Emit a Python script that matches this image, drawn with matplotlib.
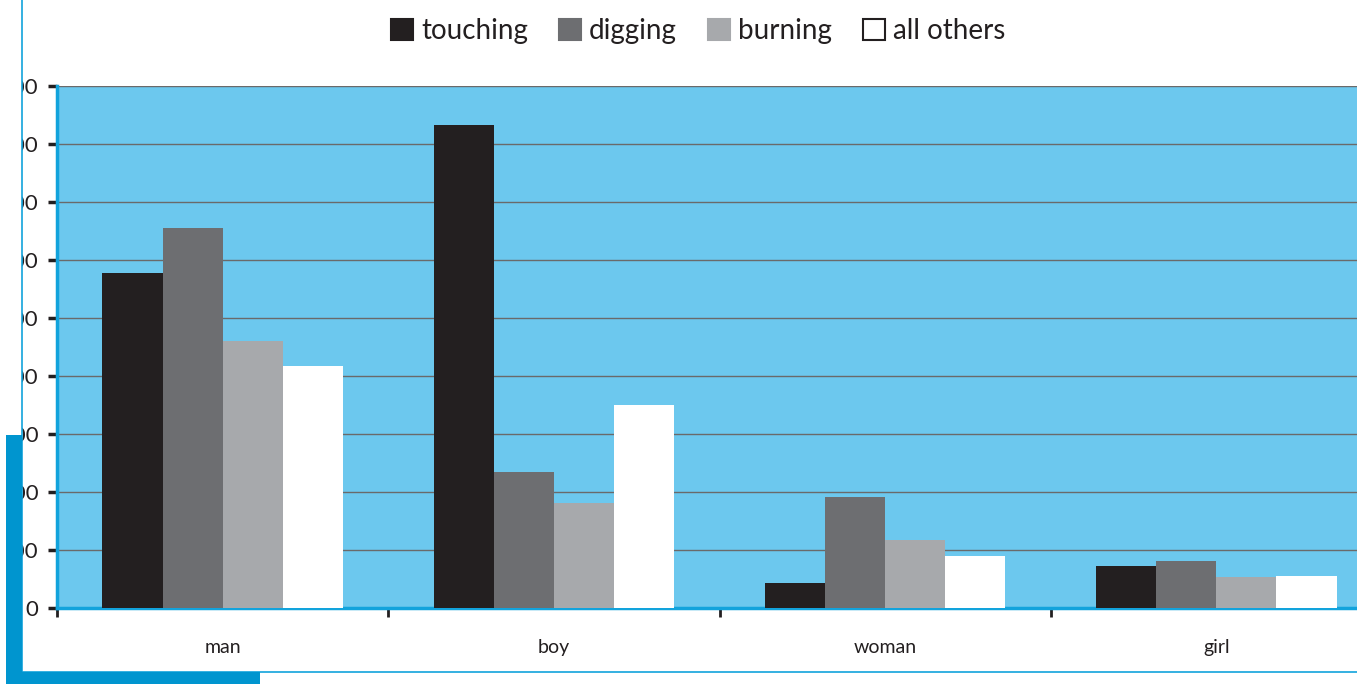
import numpy as np
import matplotlib.pyplot as plt
from matplotlib.patches import Rectangle
from matplotlib.lines import Line2D

categories = ["man", "boy", "woman", "girl"]
series = ["touching", "digging", "burning", "all others"]
touching = [578, 833, 43, 72]
digging = [655, 234, 191, 81]
burning = [460, 181, 117, 53]
others = [417, 350, 90, 55]
yticks = [0, 100, 200, 300, 400, 500, 600, 700, 800, 900]

colors = ["#231F20", "#6D6E71", "#A7A9AC", "#FFFFFF"]
plt.rcParams['font.family'] = ['Lato', 'DejaVu Sans']

fig = plt.figure(figsize=(13.57, 6.84), dpi=100)
W, H = 1357, 684
ax = fig.add_axes([57 / W, (H - 608) / H, 1325 / W, (608 - 86) / H])
ax.set_facecolor("#6CC8EE")

x = np.arange(len(categories))
bw = 0.1815
for i, (vals, c) in enumerate(zip([touching, digging, burning, others], colors)):
    ax.bar(x + (i - 1.5) * bw, vals, width=bw, color=c, label=series[i],
           linewidth=0, zorder=3)

ax.set_xlim(-0.5, 3.5)
ax.set_ylim(0, 900)
ax.set_yticks(yticks)
ax.set_yticklabels([str(v) for v in yticks], fontsize=16, color="#231F20")
ax.yaxis.grid(True, color="#6a6a6a", linewidth=1, zorder=1)
ax.set_xticks(x)
ax.set_xticklabels(categories, fontsize=14, color="#231F20")
ax.set_xticks(np.arange(-0.5, 4, 1), minor=True)
ax.tick_params(axis="x", which="major", length=0, pad=22)
ax.tick_params(axis="x", which="minor", length=6.5, width=2, color="#231F20", direction="out")
ax.tick_params(axis="y", length=6.5, width=2.5, color="#231F20", pad=7)
for s in ["top", "right"]:
    ax.spines[s].set_visible(False)
ax.spines["left"].set_color("#12A3DC")
ax.spines["left"].set_linewidth(2.5)
ax.spines["bottom"].set_color("#12A3DC")
ax.spines["bottom"].set_linewidth(2.5)

handles = [Rectangle((0, 0), 1, 1, facecolor=c, edgecolor="#231F20" if i == 3 else c, linewidth=1.5)
           for i, c in enumerate(colors)]
fig.legend(handles, series, loc="center", bbox_to_anchor=(698 / W, 1 - 31 / H), ncol=4,
           frameon=False, fontsize=20, handlelength=0.8, handleheight=0.8,
           handletextpad=0.3, columnspacing=1.1, labelcolor="#231F20")

# white margin that crops the tick labels, then the decorative frame
fig.add_artist(Rectangle((0, 0), 22 / W, 1, transform=fig.transFigure,
                         facecolor="white", edgecolor="none", zorder=5))
fig.add_artist(Line2D([22 / W, 22 / W], [1 - 672 / H, 1], color="#12A3DC", linewidth=1.2, zorder=6))
fig.add_artist(Line2D([22 / W, 1], [1 - 672 / H, 1 - 672 / H], color="#12A3DC", linewidth=1.2, zorder=6))
fig.add_artist(Rectangle((6 / W, 0), 16 / W, 1 - 435 / H, transform=fig.transFigure,
                         facecolor="#0095CF", edgecolor="none", zorder=7))
fig.add_artist(Rectangle((6 / W, 0), 254 / W, 12 / H, transform=fig.transFigure,
                         facecolor="#0095CF", edgecolor="none", zorder=7))

fig.savefig("out.png", dpi=100)
